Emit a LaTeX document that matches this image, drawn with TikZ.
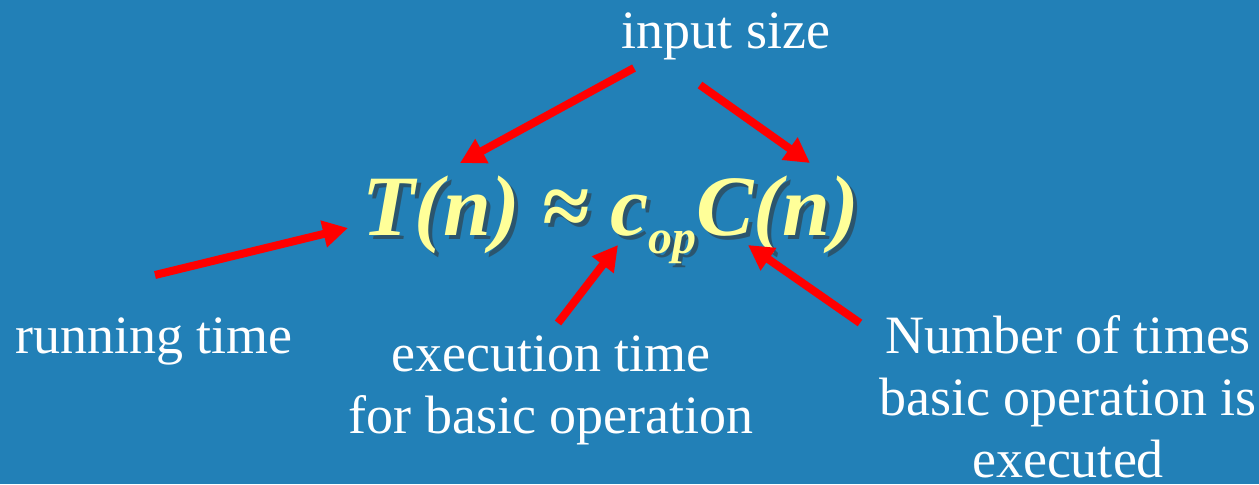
\documentclass[tikz,border=0pt]{standalone}
\usepackage{fontspec}
\setmainfont{Liberation Serif}
\usetikzlibrary{arrows.meta, positioning}
\definecolor{slideBlue}{HTML}{2280B7}
\definecolor{formulaYellow}{HTML}{FFFF99}
\definecolor{arrowRed}{HTML}{FF0000}

\newcommand{\runtimeformula}{%
  T(n) ≈ c\raisebox{-9pt}{\fontsize{24}{24}\selectfont op}C(n)}

\begin{document}
\begin{tikzpicture}[
  x=0.5pt, y=-0.5pt,
  lbl/.style={font=\fontsize{27}{31}\selectfont, text=white, inner sep=0pt,
              align=center},
  fml/.style={font=\fontsize{43}{50}\selectfont\bfseries\itshape,
              text=formulaYellow, inner sep=0pt, anchor=base west},
  shade/.style={fml, text=black!80, opacity=0.55},
  pointer/.style={draw=arrowRed, line width=4pt,
                  -{Triangle[length=12.5pt, width=13pt]}},
]
% background, which also fixes the page size
\fill[slideBlue] (0,0) rectangle (1259,484);
\useasboundingbox (0,0) rectangle (1259,484);

% ----- the formula, with its drop shadow -----
\node[shade] (formulaShadow) at (366,239) {\runtimeformula};
\node[fml] (formula) at (362,235) {\runtimeformula};

% ----- labels (base is the last line of a wrapped label) -----
\node[lbl, anchor=base] (inputSize) at (726,48) {input size};
\node[lbl, anchor=base west] (runTime) at (15,353) {running time};
\node[lbl, anchor=base] (execTime) at (551,433) {execution time\\for basic operation};
\node[lbl, anchor=base] (countOps) at (1068,477) {Number of times\\basic operation is\\executed};

% ----- arrow ends -----
\coordinate (inLeftFrom) at (634,68);
\coordinate (inLeftTo) at (460,163);
\coordinate (inRightFrom) at (700,85);
\coordinate (inRightTo) at (810,163);
\coordinate (runFrom) at (155,275);
\coordinate (runTo) at (348,228);
\coordinate (execFrom) at (558,323);
\coordinate (execTo) at (618,245);
\coordinate (countFrom) at (860,323);
\coordinate (countTo) at (748,245);

\draw[pointer] (inLeftFrom) -- (inLeftTo);
\draw[pointer] (inRightFrom) -- (inRightTo);
\draw[pointer] (runFrom) -- (runTo);
\draw[pointer] (execFrom) -- (execTo);
\draw[pointer] (countFrom) -- (countTo);
\end{tikzpicture}
\end{document}
